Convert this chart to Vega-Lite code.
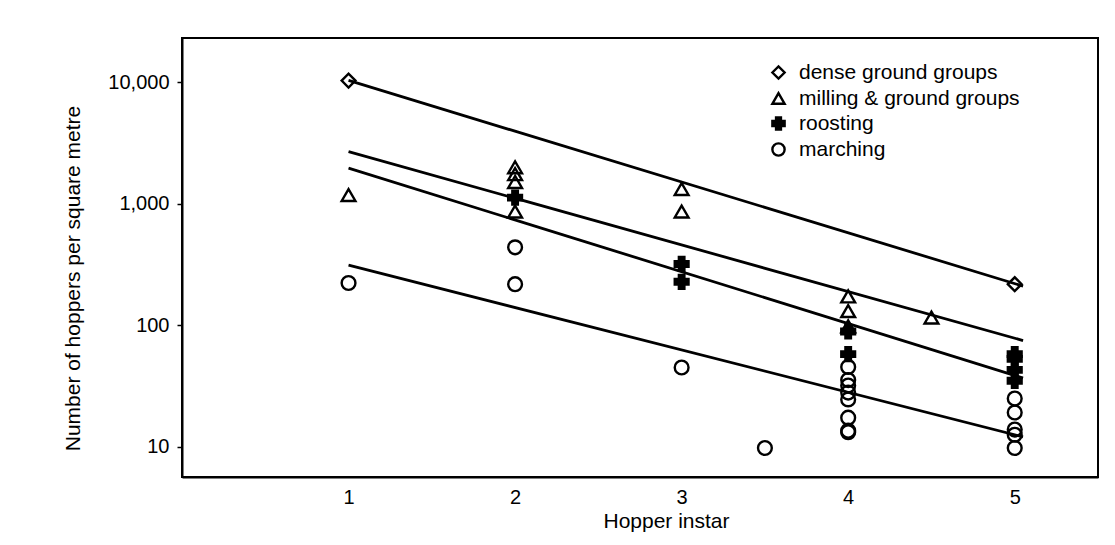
{
  "$schema": "https://vega.github.io/schema/vega-lite/v6.json",
  "width": 916,
  "height": 439,
  "autosize": {"type": "none"},
  "padding": {"left": 182, "top": 38, "right": 17, "bottom": 68},
  "background": "white",
  "config": {
    "font": "Liberation Sans",
    "view": {"stroke": "black", "strokeWidth": 2},
    "axis": {
      "grid": false,
      "domainColor": "black",
      "domainWidth": 2,
      "tickColor": "black",
      "tickWidth": 1.5,
      "labelColor": "black",
      "titleColor": "black",
      "labelFont": "Liberation Sans",
      "titleFont": "Liberation Sans",
      "labelFontSize": 20,
      "titleFontSize": 21,
      "titleFontWeight": "normal"
    },
    "legend": {
      "title": null,
      "labelFontSize": 21,
      "labelColor": "black",
      "labelOffset": 10,
      "labelLimit": 500,
      "symbolSize": 150,
      "symbolStrokeWidth": 2.4,
      "rowPadding": 3,
      "padding": 0
    }
  },
  "datasets": {
    "fits": [
      {"fit": "dense ground groups", "instar": 1, "density": 10330},
      {"fit": "dense ground groups", "instar": 5.05, "density": 210},
      {"fit": "milling & ground groups", "instar": 1, "density": 2683},
      {"fit": "milling & ground groups", "instar": 5.05, "density": 75},
      {"fit": "roosting", "instar": 1, "density": 1963},
      {"fit": "roosting", "instar": 5.05, "density": 36.9},
      {"fit": "marching", "instar": 1, "density": 313},
      {"fit": "marching", "instar": 5.05, "density": 12.1}
    ],
    "points": [
      {"group": "dense ground groups", "instar": 1, "density": 10300},
      {"group": "dense ground groups", "instar": 5, "density": 218},
      {"group": "milling & ground groups", "instar": 1, "density": 1180},
      {"group": "milling & ground groups", "instar": 2, "density": 1995},
      {"group": "milling & ground groups", "instar": 2, "density": 1750},
      {"group": "milling & ground groups", "instar": 2, "density": 1510},
      {"group": "milling & ground groups", "instar": 2, "density": 863},
      {"group": "milling & ground groups", "instar": 3, "density": 1322},
      {"group": "milling & ground groups", "instar": 3, "density": 863},
      {"group": "milling & ground groups", "instar": 4, "density": 173},
      {"group": "milling & ground groups", "instar": 4, "density": 131},
      {"group": "milling & ground groups", "instar": 4, "density": 98},
      {"group": "milling & ground groups", "instar": 4.5, "density": 116},
      {"group": "roosting", "instar": 2, "density": 1122},
      {"group": "roosting", "instar": 3, "density": 320},
      {"group": "roosting", "instar": 3, "density": 228},
      {"group": "roosting", "instar": 4, "density": 89},
      {"group": "roosting", "instar": 4, "density": 58},
      {"group": "roosting", "instar": 5, "density": 58},
      {"group": "roosting", "instar": 5, "density": 53},
      {"group": "roosting", "instar": 5, "density": 43},
      {"group": "roosting", "instar": 5, "density": 35},
      {"group": "marching", "instar": 1, "density": 223},
      {"group": "marching", "instar": 2, "density": 438},
      {"group": "marching", "instar": 2, "density": 218},
      {"group": "marching", "instar": 3, "density": 45},
      {"group": "marching", "instar": 3.5, "density": 9.8},
      {"group": "marching", "instar": 4, "density": 45.5},
      {"group": "marching", "instar": 4, "density": 35.5},
      {"group": "marching", "instar": 4, "density": 32},
      {"group": "marching", "instar": 4, "density": 28},
      {"group": "marching", "instar": 4, "density": 24.6},
      {"group": "marching", "instar": 4, "density": 17.4},
      {"group": "marching", "instar": 4, "density": 13.6},
      {"group": "marching", "instar": 4, "density": 13.2},
      {"group": "marching", "instar": 5, "density": 25},
      {"group": "marching", "instar": 5, "density": 19.2},
      {"group": "marching", "instar": 5, "density": 13.9},
      {"group": "marching", "instar": 5, "density": 12.6},
      {"group": "marching", "instar": 5, "density": 9.8}
    ]
  },
  "layer": [
    {
      "data": {"name": "fits"},
      "mark": {"type": "line", "color": "black", "strokeWidth": 2.8},
      "encoding": {
        "x": {
          "field": "instar",
          "type": "quantitative",
          "scale": {"domain": [0, 5.5], "nice": false, "zero": false},
          "axis": {"values": [1, 2, 3, 4, 5], "format": "d", "tickSize": 0, "labelPadding": 10, "title": "Hopper instar", "titlePadding": 3, "titleX": 484}
        },
        "y": {
          "field": "density",
          "type": "quantitative",
          "scale": {"type": "log", "domain": [5.66, 23070], "nice": false},
          "axis": {"values": [10, 100, 1000, 10000], "format": ",", "tickSize": 5, "labelPadding": 8, "title": "Number of hoppers per square metre", "titlePadding": 24, "titleY": 240}
        },
        "detail": {"field": "fit", "type": "nominal"}
      }
    },
    {
      "data": {"name": "points"},
      "mark": {"type": "point", "filled": true, "strokeWidth": 2.4, "size": 190, "opacity": 1, "strokeOpacity": 1, "fillOpacity": 1},
      "encoding": {
        "x": {"field": "instar", "type": "quantitative"},
        "y": {"field": "density", "type": "quantitative"},
        "shape": {
          "field": "group",
          "type": "nominal",
          "scale": {"domain": ["dense ground groups", "milling & ground groups", "roosting", "marching"], "range": ["diamond", "triangle-up", "cross", "circle"]},
          "legend": {"orient": "none", "legendX": 586, "legendY": 24}
        },
        "fill": {
          "field": "group",
          "type": "nominal",
          "scale": {"domain": ["dense ground groups", "milling & ground groups", "roosting", "marching"], "range": ["transparent", "transparent", "black", "transparent"]},
          "legend": {"orient": "none", "legendX": 586, "legendY": 24}
        },
        "stroke": {
          "field": "group",
          "type": "nominal",
          "scale": {"domain": ["dense ground groups", "milling & ground groups", "roosting", "marching"], "range": ["black", "black", "black", "black"]},
          "legend": {"orient": "none", "legendX": 586, "legendY": 24}
        }
      }
    }
  ]
}
